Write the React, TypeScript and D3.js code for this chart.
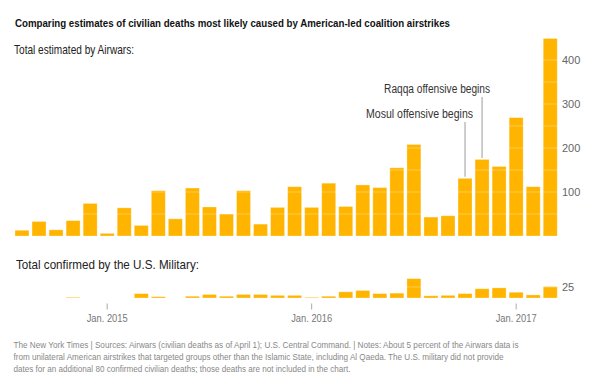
import React from "react";
import * as d3 from "d3";

const months = [
  "2014-08","2014-09","2014-10","2014-11","2014-12",
  "2015-01","2015-02","2015-03","2015-04","2015-05","2015-06","2015-07","2015-08","2015-09","2015-10","2015-11","2015-12",
  "2016-01","2016-02","2016-03","2016-04","2016-05","2016-06","2016-07","2016-08","2016-09","2016-10","2016-11","2016-12",
  "2017-01","2017-02","2017-03",
];
const airwars = [13,33,14,35,74,6,64,24,103,39,109,66,50,103,27,65,112,65,120,67,116,110,155,208,43,46,131,174,158,269,112,449];
const military = [0,0,0,1,0,0,0,10,3,0,4,8,4,8,8,6,6,1,4,14,17,10,11,44,5,6,10,21,23,13,7,26];
const topTicks = [100, 200, 300, 400];
const topGrid = [50, 100, 150, 200, 250, 300, 350, 400, 450];
const botTicks = [25];
const xTicks = [
  { month: "2015-01", label: "Jan. 2015" },
  { month: "2016-01", label: "Jan. 2016" },
  { month: "2017-01", label: "Jan. 2017" },
];
const annotations = [
  { month: "2016-10", label: "Mosul offensive begins", labelY: 117.5, lineTop: 122, width: 107 },
  { month: "2016-11", label: "Raqqa offensive begins", labelY: 93.3, lineTop: 97, width: 106 },
];
const title = "Comparing estimates of civilian deaths most likely caused by American-led coalition airstrikes";
const subTop = "Total estimated by Airwars:";
const subBot = "Total confirmed by the U.S. Military:";
const footer = [
  "The New York Times | Sources: Airwars (civilian deaths as of April 1); U.S. Central Command. | Notes: About 5 percent of the Airwars data is",
  "from unilateral American airstrikes that targeted groups other than the Islamic State, including Al Qaeda. The U.S. military did not provide",
  "dates for an additional 80 confirmed civilian deaths; those deaths are not included in the chart.",
];
const footerWidths = [505, 490, 337];

const FONT = "'Liberation Sans Narrow', 'Liberation Sans', Arial, sans-serif";
const BAR = "#FFB400";

export default function App() {
  const step = 17.04;
  const x = d3
    .scaleBand<string>()
    .domain(months)
    .range([15 - step * 0.09, 15 - step * 0.09 + step * months.length])
    .paddingInner(0.18)
    .paddingOuter(0.09);
  const pxPerUnit = 0.44;
  const yTop = d3.scaleLinear().domain([0, 450]).range([236, 236 - 450 * pxPerUnit]);
  const yBot = d3.scaleLinear().domain([0, 50]).range([298, 298 - 50 * pxPerUnit]);
  const bw = x.bandwidth();
  const gx0 = x(months[0])!;
  const gx1 = x(months[months.length - 1])! + bw;

  return (
    <svg
      width={597}
      height={381}
      style={{ position: "absolute", left: 0, top: 0, background: "#fff" }}
      fontFamily={FONT}
    >
      <text x={15} y={27} fontSize={11} fontWeight="bold" fill="#121212" textLength={435} lengthAdjust="spacingAndGlyphs">
        {title}
      </text>
      <text x={14} y={53.5} fontSize={13.5} fill="#222" textLength={120} lengthAdjust="spacingAndGlyphs">
        {subTop}
      </text>

      {/* top bars */}
      {airwars.map((v, i) => (
        <rect
          key={"a" + i}
          x={x(months[i])}
          y={yTop(v)}
          width={bw}
          height={yTop(0) - yTop(v)}
          fill={BAR}
          stroke="rgba(255,255,255,0.35)"
          strokeWidth={0.8}
        />
      ))}
      {topGrid.map((t) => (
        <line key={"g" + t} x1={gx0} x2={gx1} y1={yTop(t)} y2={yTop(t)} stroke="#fff" strokeOpacity={0.3} strokeWidth={1} />
      ))}
      {topTicks.map((t) => (
        <text key={"t" + t} x={562} y={yTop(t)} dy="0.35em" fontSize={11} fill="#666">
          {t}
        </text>
      ))}

      {/* annotations */}
      {annotations.map((a) => {
        const i = months.indexOf(a.month);
        const cx = x(a.month)! + bw / 2;
        return (
          <g key={a.month}>
            <line x1={cx} x2={cx} y1={a.lineTop} y2={yTop(airwars[i]) - 1.5} stroke="#b3b3b3" strokeWidth={1.3} />
            <text x={cx + 8} y={a.labelY} fontSize={12} fill="#333" textAnchor="end" textLength={a.width} lengthAdjust="spacingAndGlyphs">
              {a.label}
            </text>
          </g>
        );
      })}

      <text x={16} y={269} fontSize={13.5} fill="#222" textLength={183} lengthAdjust="spacingAndGlyphs">
        {subBot}
      </text>

      {/* bottom bars */}
      {military.map((v, i) =>
        v > 0 ? (
          <rect
            key={"m" + i}
            x={x(months[i])}
            y={yBot(v)}
            width={bw}
            height={yBot(0) - yBot(v)}
            fill={BAR}
            stroke={v > 2 ? "rgba(255,255,255,0.35)" : "none"}
            strokeWidth={0.8}
          />
        ) : null
      )}
      {botTicks.map((t) => (
        <g key={"bt" + t}>
          <line x1={gx0} x2={gx1} y1={yBot(t)} y2={yBot(t)} stroke="#fff" strokeOpacity={0.3} strokeWidth={1} />
          <text x={562} y={yBot(t)} dy="0.35em" fontSize={11} fill="#666">
            {t}
          </text>
        </g>
      ))}

      {/* x axis */}
      {xTicks.map((t) => {
        const cx = x(t.month)! + bw / 2;
        return (
          <g key={t.month}>
            <line x1={cx} x2={cx} y1={303.5} y2={309.5} stroke="#aaa" strokeWidth={1} />
            <text x={cx} y={322} fontSize={11} fill="#777" textAnchor="middle" textLength={41} lengthAdjust="spacingAndGlyphs">
              {t.label}
            </text>
          </g>
        );
      })}

      {/* footer */}
      {footer.map((line, i) => (
        <text key={"f" + i} x={13.5} y={348 + i * 12} fontSize={8.8} fill="#888" textLength={footerWidths[i]} lengthAdjust="spacingAndGlyphs">
          {line}
        </text>
      ))}
    </svg>
  );
}
